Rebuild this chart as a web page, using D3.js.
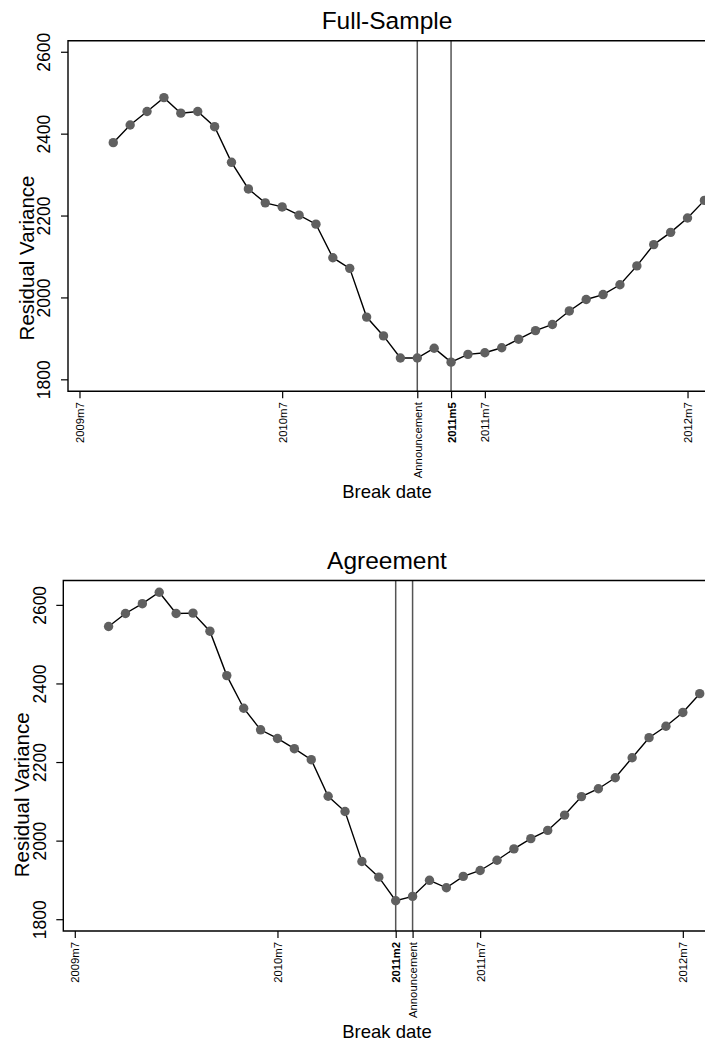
<!DOCTYPE html>
<html>
<head>
<meta charset="utf-8">
<script src="https://cdn.jsdelivr.net/npm/d3@7"></script>
<style>
  body { margin: 0; background: #fff; }
  svg { display: block; font-family: "Liberation Sans", Arial, sans-serif; }
</style>
</head>
<body>
<div id="chart"></div>
<script>
// break dates (x) and residual variance for each sample
const breakDates = ['2009m9', '2009m10', '2009m11', '2009m12', '2010m1', '2010m2',
  '2010m3', '2010m4', '2010m5', '2010m6', '2010m7', '2010m8', '2010m9', '2010m10',
  '2010m11', '2010m12', '2011m1', '2011m2', '2011m3', '2011m4', '2011m5', '2011m6',
  '2011m7', '2011m8', '2011m9', '2011m10', '2011m11', '2011m12', '2012m1', '2012m2',
  '2012m3', '2012m4', '2012m5', '2012m6', '2012m7', '2012m8'];

const fullSample = [2378, 2421, 2454, 2488, 2450, 2454, 2417, 2330, 2265, 2231, 2221, 2201,
  2179, 2097, 2071, 1952, 1906, 1852, 1852, 1876, 1842, 1861, 1865, 1877, 1898, 1919,
  1934, 1967, 1995, 2007, 2031, 2077, 2129, 2159, 2194, 2237];

const agreement = [2545, 2578, 2603, 2632, 2578, 2579, 2533, 2420, 2337, 2282, 2260, 2234,
  2206, 2113, 2074, 1947, 1907, 1847, 1858, 1899, 1880, 1909, 1924, 1950, 1979, 2005,
  2026, 2065, 2112, 2132, 2160, 2211, 2262, 2291, 2326, 2374];

const yTicks = [1800, 2000, 2200, 2400, 2600];
const xTickLabels = ['2009m7', '2010m7', '2011m7', '2012m7'];

const fullMarkers = [
  {date: '2011m3', label: 'Announcement', bold: false},
  {date: '2011m5', label: '2011m5', bold: true}
];
const agreementMarkers = [
  {date: '2011m2', label: '2011m2', bold: true},
  {date: '2011m3', label: 'Announcement', bold: false}
];

// "2010m7" -> months since 2009m7
function monthIndex(s) {
  const p = s.split('m');
  return (+p[0] - 2009) * 12 + (+p[1] - 7);
}

const W = 705, H = 1046;
const monthPx = 16.89;

const svg = d3.select('#chart')
  .append('svg')
    .attr('width', W)
    .attr('height', H);

svg.append('rect').attr('width', W).attr('height', H).attr('fill', '#fff');

function panel(opts) {
  const g = svg.append('g').attr('transform', 'translate(0,' + opts.offset + ')');
  const top = 40.7, bottom = 391.2;
  const left = opts.left;

  const x = d3.scaleLinear()
    .domain([-0.68, 38])
    .range([left, left + 38.68 * monthPx]);
  const y = d3.scaleLinear()
    .domain(opts.yDomain)
    .range([bottom, top]);

  // title
  g.append('text')
    .attr('x', 387)
    .attr('y', 29.3)
    .attr('text-anchor', 'middle')
    .attr('font-size', 24.5)
    .text(opts.title);

  // marker lines
  g.selectAll('.marker')
    .data(opts.markers)
    .join('line')
      .attr('x1', d => x(monthIndex(d.date)))
      .attr('x2', d => x(monthIndex(d.date)))
      .attr('y1', top)
      .attr('y2', bottom)
      .attr('stroke', '#555')
      .attr('stroke-width', 1.5);

  // y axis
  const yAxis = g.append('g')
    .attr('transform', 'translate(' + left + ',0)')
    .call(d3.axisLeft(y).tickValues(yTicks).tickSize(7).tickSizeOuter(0)
      .tickFormat(d3.format('d')));
  yAxis.select('.domain').remove();
  yAxis.selectAll('.tick line').attr('stroke', '#000').attr('stroke-width', 1.2);
  yAxis.selectAll('.tick text')
    .attr('transform', 'rotate(-90)')
    .attr('x', 0)
    .attr('y', opts.yLabelOff)
    .attr('dy', 0)
    .attr('text-anchor', 'middle')
    .attr('font-size', 17.5)
    .attr('font-family', null)
    .attr('fill', '#000');

  // x axis
  const ticks = xTickLabels.map(s => ({date: s, label: s, bold: false})).concat(opts.markers);
  const xAxis = g.append('g')
    .attr('transform', 'translate(0,' + bottom + ')')
    .call(d3.axisBottom(x)
      .tickValues(ticks.map(d => monthIndex(d.date)))
      .tickSize(7)
      .tickSizeOuter(0)
      .tickFormat((d, i) => ticks[i].label));
  xAxis.select('.domain').remove();
  xAxis.selectAll('.tick line').attr('stroke', '#000').attr('stroke-width', 1.2);
  xAxis.selectAll('.tick text')
    .attr('transform', 'rotate(-90)')
    .attr('x', -11)
    .attr('y', 4)
    .attr('dy', 0)
    .attr('text-anchor', 'end')
    .attr('font-size', 11.3)
    .attr('font-family', null)
    .attr('font-weight', (d, i) => ticks[i].bold ? 'bold' : null)
    .attr('fill', '#000');

  // frame
  g.append('path')
    .attr('d', 'M' + W + ',' + top + 'H' + left + 'V' + bottom + 'H' + W)
    .attr('fill', 'none')
    .attr('stroke', '#000')
    .attr('stroke-width', 1.4);

  // axis titles
  g.append('text')
    .attr('transform', 'translate(' + (left - 34.5) + ',' + opts.yTitleY + ') rotate(-90)')
    .attr('text-anchor', 'middle')
    .attr('font-size', 20.5)
    .text('Residual Variance');
  g.append('text')
    .attr('x', 387)
    .attr('y', 498)
    .attr('text-anchor', 'middle')
    .attr('font-size', 18.5)
    .text('Break date');

  // series
  const pts = breakDates.map((d, i) => ({m: monthIndex(d), v: opts.values[i]}));
  g.append('path')
    .datum(pts)
    .attr('fill', 'none')
    .attr('stroke', '#000')
    .attr('stroke-width', 1.4)
    .attr('d', d3.line().x(d => x(d.m)).y(d => y(d.v)));
  g.selectAll('circle')
    .data(pts)
    .join('circle')
      .attr('cx', d => x(d.m))
      .attr('cy', d => y(d.v))
      .attr('r', 4.7)
      .attr('fill', '#606060');
}

panel({title: 'Full-Sample', values: fullSample, markers: fullMarkers,
  offset: 0, left: 68, yDomain: [1771, 2627], yLabelOff: -18, yTitleY: 258});
panel({title: 'Agreement', values: agreement, markers: agreementMarkers,
  offset: 539.8, left: 63.3, yDomain: [1770, 2662], yLabelOff: -17, yTitleY: 255});
</script>
</body>
</html>
